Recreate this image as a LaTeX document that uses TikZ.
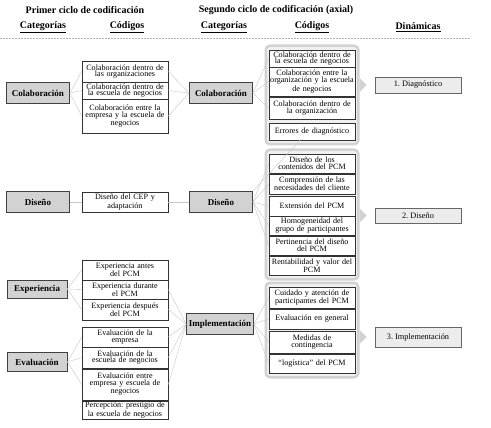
\documentclass[tikz,border=0pt]{standalone}
\usepackage{fontspec}
\setmainfont{Liberation Serif}
\usetikzlibrary{positioning,fit,backgrounds}
\frenchspacing

\tikzset{
	cat/.style={draw=black!75, fill=gray!35, line width=0.7pt, font=\fontsize{9}{9}\selectfont\bfseries, inner xsep=1pt, minimum height=21pt},
	code/.style={draw=black!80, fill=white, line width=0.5pt, font=\fontsize{8.1}{6.8}\selectfont, text width=86pt, align=center, inner xsep=0pt, inner ysep=1pt},
	dyn/.style={draw=black!60, fill=gray!15, line width=0.6pt, font=\fontsize{8.3}{8.3}\selectfont, minimum width=86pt},
	grp/.style={draw=gray!35, fill=gray!12, line width=2.5pt, rounded corners=4pt, inner xsep=3pt, inner ysep=4pt},
	link/.style={gray!45, line width=0.4pt},
	head/.style={font=\fontsize{10}{10}\selectfont\bfseries},
}

\begin{document}
\begin{tikzpicture}[x=1pt, y=-1pt]
	\useasboundingbox (0,0) rectangle (491,428);

	% headers
	\node[head] (h1) at (85,10)   {Primer ciclo de codificación};
	\node[head] (h2) at (276,10)  {Segundo ciclo de codificación (axial)};
	\node[head] (t1) at (43,27)   {\underline{Categorías}};
	\node[head] (t2) at (127,27)  {\underline{Códigos}};
	\node[head] (t3) at (224,27)  {\underline{Categorías}};
	\node[head] (t4) at (312,27)  {\underline{Códigos}};
	\node[head] (t5) at (418,27)  {\underline{Dinámicas}};
	\draw[gray!60, dash pattern=on 0.6pt off 0.9pt, line width=0.5pt] (0,38) -- (470,38);

	% first cycle categories
	\node[cat, minimum width=63pt] (colab1) at (38,93)  {Colaboración};
	\node[cat, minimum width=63pt] (disen1) at (38,202) {Diseño};
	\node[cat, minimum width=60pt, minimum height=18pt] (exper) at (37,289) {Experiencia};
	\node[cat, minimum width=60pt, minimum height=19pt] (evalu) at (37,362) {Evaluación};

	% first cycle codes
	\node[code, minimum height=21pt] (c1a) at (125,71.5)  {Colaboración dentro de\\las organizaciones};
	\node[code, minimum height=17pt] (c1b) at (125,90.5)  {Colaboración dentro de\\la escuela de negocios};
	\node[code, minimum height=34pt] (c1c) at (125,116)   {Colaboración entre la\\empresa y la escuela de\\negocios};
	\node[code, minimum height=20pt] (d1)  at (125,202)   {Diseño del CEP y\\adaptación};
	\node[code, minimum height=20pt] (e1a) at (125,270)   {Experiencia antes\\del PCM};
	\node[code, minimum height=19pt] (e1b) at (125,289.5) {Experiencia durante\\el PCM};
	\node[code, minimum height=21pt] (e1c) at (125,309.5) {Experiencia después\\del PCM};
	\node[code, minimum height=20pt] (v1a) at (125,337)   {Evaluación de la\\empresa};
	\node[code, minimum height=21pt] (v1b) at (125,357.5) {Evaluación de la\\escuela de negocios};
	\node[code, minimum height=31pt] (v1c) at (125,384.5) {Evaluación entre\\empresa y escuela de\\negocios};
	\node[code, minimum height=16pt] (v1d) at (125,410)   {Percepción: prestigio de\\la escuela de negocios};

	% second cycle categories
	\node[cat, minimum width=63pt] (colab2) at (221,93)  {Colaboración};
	\node[cat, minimum width=63pt] (disen2) at (221,202) {Diseño};
	\node[cat, minimum width=67pt] (implem) at (220,324) {Implementación};

	% second cycle codes
	\node[code, minimum height=17pt] (g1a) at (312,58.5)  {Colaboración dentro de\\la escuela de negocios};
	\node[code, minimum height=29pt] (g1b) at (312,81.5)  {Colaboración entre la\\organización y la escuela\\de negocios};
	\node[code, minimum height=22pt] (g1c) at (312,108)   {Colaboración dentro de\\la organización};
	\node[code, minimum height=17pt] (g1d) at (312,131.5) {Errores de diagnóstico};
	\node[code, minimum height=19pt] (g2a) at (312,163.5) {Diseño de los\\contenidos del PCM};
	\node[code, minimum height=20pt] (g2b) at (312,184)   {Comprensión de las\\necesidades del cliente};
	\node[code, minimum height=20pt] (g2c) at (312,206)   {Extensión del PCM};
	\node[code, minimum height=19pt] (g2d) at (312,225.5) {Homogeneidad del\\grupo de participantes};
	\node[code, minimum height=19pt] (g2e) at (312,245.5) {Pertinencia del diseño\\del PCM};
	\node[code, minimum height=19pt] (g2f) at (312,265.5) {Rentabilidad y valor del\\PCM};
	\node[code, minimum height=21pt] (g3a) at (312,297.5) {Cuidado y atención de\\participantes del PCM};
	\node[code, minimum height=20pt] (g3b) at (312,319)   {Evaluación en general};
	\node[code, minimum height=22pt] (g3c) at (312,342)   {Medidas de\\contingencia};
	\node[code, minimum height=19pt] (g3d) at (312,363.5) {“logística” del PCM};

	% dynamics
	\node[dyn, minimum height=16pt] (dyn1) at (418,85)    {1. Diagnóstico};
	\node[dyn, minimum height=15pt] (dyn2) at (418,215.5) {2. Diseño};
	\node[dyn, minimum height=20pt] (dyn3) at (418,337)   {3. Implementación};

	% groups
	\begin{scope}[on background layer]
		\node[grp, fit=(g1a)(g1d)] (grp1) {};
		\node[grp, fit=(g2a)(g2f)] (grp2) {};
		\node[grp, fit=(g3a)(g3d)] (grp3) {};
		\fill[gray!35] (grp1.east |- dyn1) ++(0,-7) -- ++(7,7) -- ++(-7,7) -- cycle;
		\fill[gray!35] (grp2.east |- dyn2) ++(0,-7) -- ++(7,7) -- ++(-7,7) -- cycle;
		\fill[gray!35] (grp3.east |- dyn3) ++(0,-7) -- ++(7,7) -- ++(-7,7) -- cycle;
	\end{scope}

	% links
	\foreach \c in {c1a,c1b,c1c} {
		\draw[link] (colab1.east) -- (\c.west);
		\draw[link] (\c.east) -- (colab2.west);
	}
	\draw[link] (disen1) -- (d1);
	\draw[link] (d1) -- (disen2);
	\foreach \c in {e1a,e1b,e1c} \draw[link] (exper.east) -- (\c.west);
	\foreach \c in {v1a,v1b,v1c} \draw[link] (evalu.east) -- (\c.west);
	\foreach \c in {e1b,e1c,v1a,v1b,v1c} \draw[link] (\c.east) -- (implem.west);
	\foreach \c in {g1a,g1b,g1c} \draw[link] (colab2.east) -- (\c.west);
	\draw[link] (disen2.north east) -- ([xshift=-12pt]g1d.south);
	\foreach \c in {g2a,g2b,g2c,g2d,g2e} \draw[link] (disen2.east) -- (\c.west);
	\foreach \c in {g3a,g3b,g3c,g3d} \draw[link] (implem.east) -- (\c.west);
\end{tikzpicture}
\end{document}
